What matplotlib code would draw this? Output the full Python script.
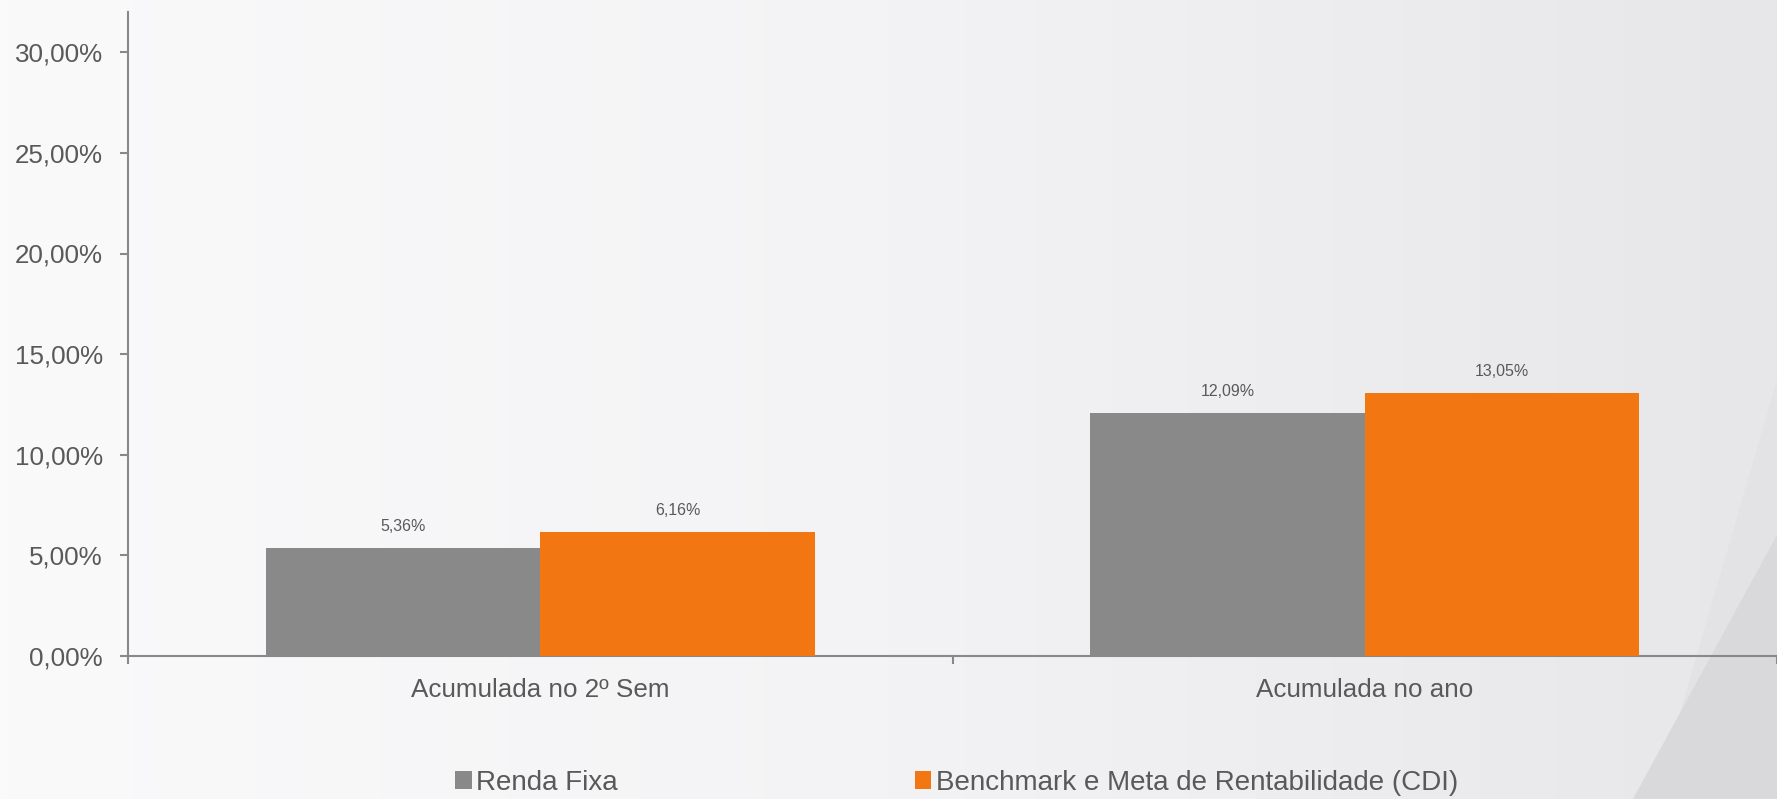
import numpy as np
from matplotlib import pyplot as plt
from matplotlib.colors import LinearSegmentedColormap
from matplotlib.patches import Polygon
from matplotlib.ticker import FuncFormatter

categories = ['Acumulada no 2º Sem', 'Acumulada no ano']
renda_fixa = [5.36, 12.09]
benchmark = [6.16, 13.05]
series_names = ['Renda Fixa', 'Benchmark e Meta de Rentabilidade (CDI)']
yticks = [0, 5, 10, 15, 20, 25, 30]

plt.rcParams['font.family'] = ['Liberation Sans', 'DejaVu Sans']
text_c = '#595959'
W, H = 1777, 799

fig = plt.figure(figsize=(W / 100, H / 100), dpi=100)

# background gradient + diagonal shapes bottom right (pixel coords, y from top)
bg = fig.add_axes([0, 0, 1, 1], zorder=-10)
cmap = LinearSegmentedColormap.from_list('g', ['#fafafb', '#f3f3f5', '#e7e7e9'])
bg.imshow(np.linspace(0, 1, 256)[None, :], extent=[0, W, H, 0], aspect='auto', cmap=cmap)
bg.add_patch(Polygon([[1655, H], [W, 380], [W, H]], closed=True, color='#e3e3e5', lw=0))
bg.add_patch(Polygon([[1633, H], [W, 535], [W, H]], closed=True, color='#d9d9db', lw=0))
bg.set_xlim(0, W)
bg.set_ylim(H, 0)
bg.axis('off')

ax = fig.add_axes([128 / W, 1 - 656 / H, (W - 128) / W, (656 - 12) / H])
ax.patch.set_alpha(0)

x = np.arange(len(categories))
w = 0.333
b1 = ax.bar(x - w / 2, renda_fixa, w, color='#898989', label=series_names[0], zorder=3)
b2 = ax.bar(x + w / 2, benchmark, w, color='#f27612', label=series_names[1], zorder=3)

for bars, vals in [(b1, renda_fixa), (b2, benchmark)]:
    for r, v in zip(bars, vals):
        ax.annotate(f'{v:.2f}%'.replace('.', ','), (r.get_x() + r.get_width() / 2, v),
                    xytext=(0, 10), textcoords='offset points',
                    ha='center', va='bottom', fontsize=11.5, color=text_c)

ax.set_xlim(-0.5, -0.5 + (W - 128) / 832)
ax.set_ylim(0, 32)
ax.set_yticks(yticks)
ax.yaxis.set_major_formatter(FuncFormatter(lambda v, p: f'{v:.2f}%'.replace('.', ',')))
ax.set_xticks(x)
ax.set_xticklabels(categories)
ax.set_xticks([-0.5, 0.5, 1.5], minor=True)
ax.tick_params(axis='x', which='major', length=0, pad=16, labelsize=18.7, labelcolor=text_c)
ax.tick_params(axis='x', which='minor', length=6, color='#888888', width=1.5)
ax.tick_params(axis='y', length=6, color='#888888', width=1.5, labelsize=18.7, labelcolor=text_c, pad=12)

for s in ['top', 'right']:
    ax.spines[s].set_visible(False)
for s in ['left', 'bottom']:
    ax.spines[s].set_color('#888888')
    ax.spines[s].set_linewidth(1.5)

leg = fig.legend(loc='center left', bbox_to_anchor=(455 / W, 1 - 783 / H), ncol=2, frameon=False,
                 fontsize=20, handlelength=0.6, handleheight=0.6, handletextpad=0.15,
                 columnspacing=10.7, borderpad=0, borderaxespad=0)
for t in leg.get_texts():
    t.set_color(text_c)

fig.savefig('out.png', dpi=100)
